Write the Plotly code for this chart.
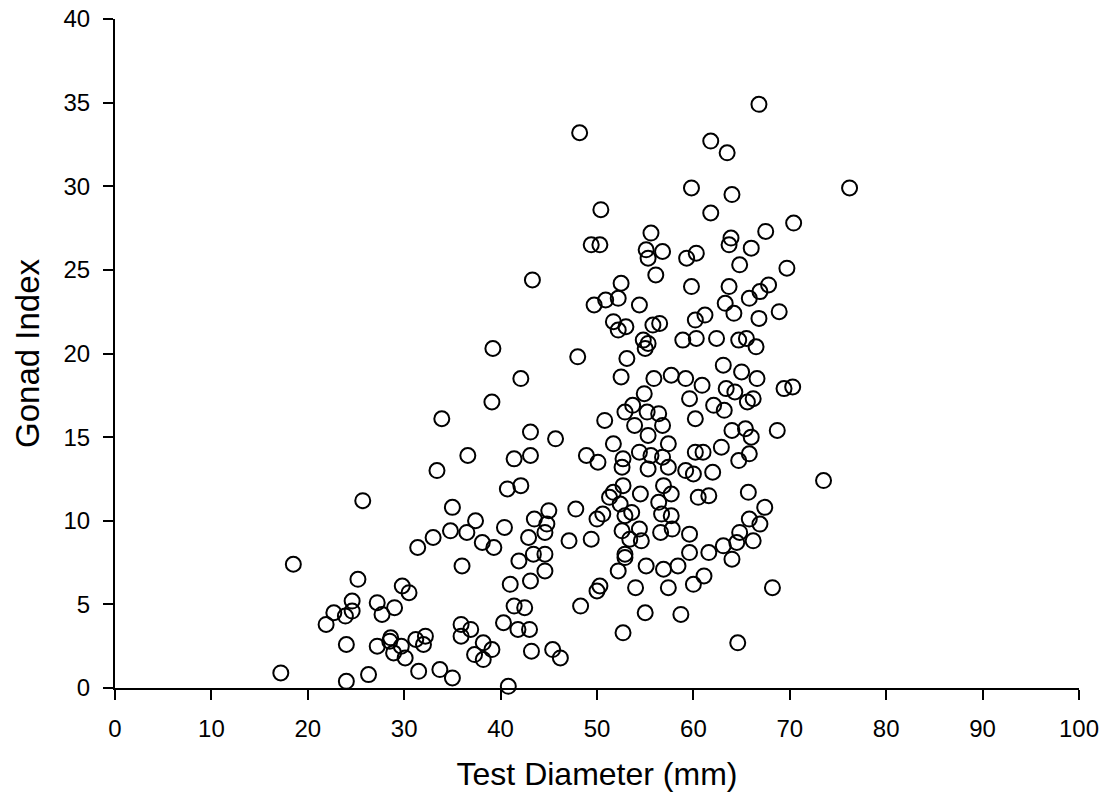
import plotly.graph_objects as go

# Test diameter (mm) and gonad index of each sampled urchin
diameter_mm = [
    18.5, 17.2, 24.0, 24.0, 21.9, 22.7, 23.9, 24.6, 24.6, 25.2, 25.7,
    39.2, 42.1, 39.1, 33.9, 43.1, 45.7, 36.6, 41.4, 43.1, 33.4, 40.7, 42.1,
    35.0, 45.0, 43.5, 44.8, 37.4, 40.4, 44.6, 33.0, 34.8, 36.5, 38.1, 39.3,
    42.9, 43.4, 44.6, 31.4, 36.0, 41.9, 44.6, 43.1, 41.0, 29.8, 30.5, 27.2,
    27.7, 29.0, 41.4, 42.5, 40.3, 41.8, 43.0, 43.2, 45.4, 46.2, 35.9, 36.9,
    35.9, 38.2, 39.1, 37.3, 38.2, 27.2, 28.6, 28.5, 29.7, 28.9, 30.1, 31.2,
    32.2, 32.0, 31.5, 33.7, 35.0, 26.3, 40.8,
    48.0, 53.1, 52.5, 55.9, 57.7, 59.2, 54.9, 59.6, 53.7, 52.9, 55.2, 56.4,
    60.2, 50.8, 53.9, 56.8, 55.3, 51.7, 57.4, 54.4, 55.6, 56.8, 52.7, 60.2,
    48.9, 50.1, 52.6, 55.3, 57.4, 59.2, 60.0, 54.5, 52.7, 51.7, 51.3, 52.4,
    56.9, 57.7, 56.4, 56.7, 57.7, 60.5, 53.6, 52.9, 50.6, 50.0, 47.8, 52.6,
    54.4, 53.4, 54.6, 56.6, 57.8, 59.6, 49.4, 47.1, 52.9, 52.9, 52.2, 55.1,
    56.9, 58.4, 59.6, 60.0, 57.4, 54.0, 50.3, 50.0, 48.3, 55.0, 58.7, 52.7,
    48.2, 59.8, 50.4, 49.4, 50.3, 55.6, 55.1, 56.8, 55.3, 56.1, 59.3, 60.3,
    59.8, 43.3, 52.5, 50.9, 49.7, 52.2, 54.4, 51.7, 53.0, 52.2, 55.8, 56.5,
    60.2, 58.9, 60.3, 54.8, 55.3, 55.0,
    66.8, 61.8, 63.5, 64.0, 76.2, 61.8, 70.4, 67.5, 63.9, 63.7, 66.0, 64.8,
    69.7, 63.7, 67.8, 66.9, 65.8, 63.3, 64.2, 68.9, 61.2, 66.8, 62.4, 64.7,
    65.5, 66.5,
    63.1, 65.0, 66.6, 60.9, 63.4, 64.3, 69.4, 70.3, 66.2, 65.6, 62.1, 63.2,
    64.0, 65.4, 66.0, 68.7, 62.9, 61.0, 65.8, 64.7, 62.0, 73.5, 65.7, 61.6,
    67.4, 65.8, 66.9, 64.8, 66.2, 64.5, 63.1, 61.6, 64.0, 61.1, 68.2, 64.6,
]

gonad_index = [
    7.4, 0.9, 2.6, 0.4, 3.8, 4.5, 4.3, 4.6, 5.2, 6.5, 11.2,
    20.3, 18.5, 17.1, 16.1, 15.3, 14.9, 13.9, 13.7, 13.9, 13.0, 11.9, 12.1,
    10.8, 10.6, 10.1, 9.8, 10.0, 9.6, 9.3, 9.0, 9.4, 9.3, 8.7, 8.4,
    9.0, 8.0, 8.0, 8.4, 7.3, 7.6, 7.0, 6.4, 6.2, 6.1, 5.7, 5.1,
    4.4, 4.8, 4.9, 4.8, 3.9, 3.5, 3.5, 2.2, 2.3, 1.8, 3.8, 3.5,
    3.1, 2.7, 2.3, 2.0, 1.7, 2.5, 3.0, 2.8, 2.5, 2.1, 1.8, 2.9,
    3.1, 2.6, 1.0, 1.1, 0.6, 0.8, 0.1,
    19.8, 19.7, 18.6, 18.5, 18.7, 18.5, 17.6, 17.3, 16.9, 16.5, 16.5, 16.4,
    16.1, 16.0, 15.7, 15.7, 15.1, 14.6, 14.6, 14.1, 13.9, 13.8, 13.7, 14.1,
    13.9, 13.5, 13.2, 13.1, 13.2, 13.0, 12.8, 11.6, 12.1, 11.7, 11.4, 11.0,
    12.1, 11.6, 11.1, 10.4, 10.3, 11.4, 10.5, 10.3, 10.4, 10.1, 10.7, 9.4,
    9.5, 8.9, 8.8, 9.3, 9.5, 9.2, 8.9, 8.8, 8.0, 7.8, 7.0, 7.3,
    7.1, 7.3, 8.1, 6.2, 6.0, 6.0, 6.1, 5.8, 4.9, 4.5, 4.4, 3.3,
    33.2, 29.9, 28.6, 26.5, 26.5, 27.2, 26.2, 26.1, 25.7, 24.7, 25.7, 26.0,
    24.0, 24.4, 24.2, 23.2, 22.9, 23.3, 22.9, 21.9, 21.6, 21.4, 21.7, 21.8,
    22.0, 20.8, 20.9, 20.8, 20.6, 20.3,
    34.9, 32.7, 32.0, 29.5, 29.9, 28.4, 27.8, 27.3, 26.9, 26.5, 26.3, 25.3,
    25.1, 24.0, 24.1, 23.7, 23.3, 23.0, 22.4, 22.5, 22.3, 22.1, 20.9, 20.8,
    20.9, 20.4,
    19.3, 18.9, 18.5, 18.1, 17.9, 17.7, 17.9, 18.0, 17.3, 17.1, 16.9, 16.6,
    15.4, 15.5, 15.0, 15.4, 14.4, 14.1, 14.0, 13.6, 12.9, 12.4, 11.7, 11.5,
    10.8, 10.1, 9.8, 9.3, 8.8, 8.7, 8.5, 8.1, 7.7, 6.7, 6.0, 2.7,
]

x_ticks = [0, 10, 20, 30, 40, 50, 60, 70, 80, 90, 100]
y_ticks = [0, 5, 10, 15, 20, 25, 30, 35, 40]

FONT = "Liberation Sans, Arial, sans-serif"

fig = go.Figure(
    go.Scatter(
        x=diameter_mm,
        y=gonad_index,
        mode="markers",
        cliponaxis=False,
        marker=dict(symbol="circle-open", size=15, color="black",
                    line=dict(width=2, color="black")),
        showlegend=False,
    )
)

axis_common = dict(
    showline=True,
    linecolor="black",
    linewidth=2,
    ticks="outside",
    ticklen=10,
    tickwidth=2,
    tickcolor="black",
    showgrid=False,
    zeroline=False,
    tickfont=dict(family=FONT, size=24, color="black"),
)

fig.update_xaxes(
    range=[0, 100],
    tickvals=x_ticks,
    ticklabelstandoff=8,
    title=dict(text="Test Diameter (mm)", font=dict(family=FONT, size=32, color="black"), standoff=22),
    **axis_common,
)
fig.update_yaxes(
    range=[0, 40],
    tickvals=y_ticks,
    ticklabelstandoff=8,
    title=dict(text="Gonad Index", font=dict(family=FONT, size=33, color="black"), standoff=14),
    **axis_common,
)

fig.update_layout(
    width=1107,
    height=808,
    margin=dict(l=115, r=28, t=19, b=120, autoexpand=False),
    paper_bgcolor="white",
    plot_bgcolor="white",
)

fig.write_html("out.html")
